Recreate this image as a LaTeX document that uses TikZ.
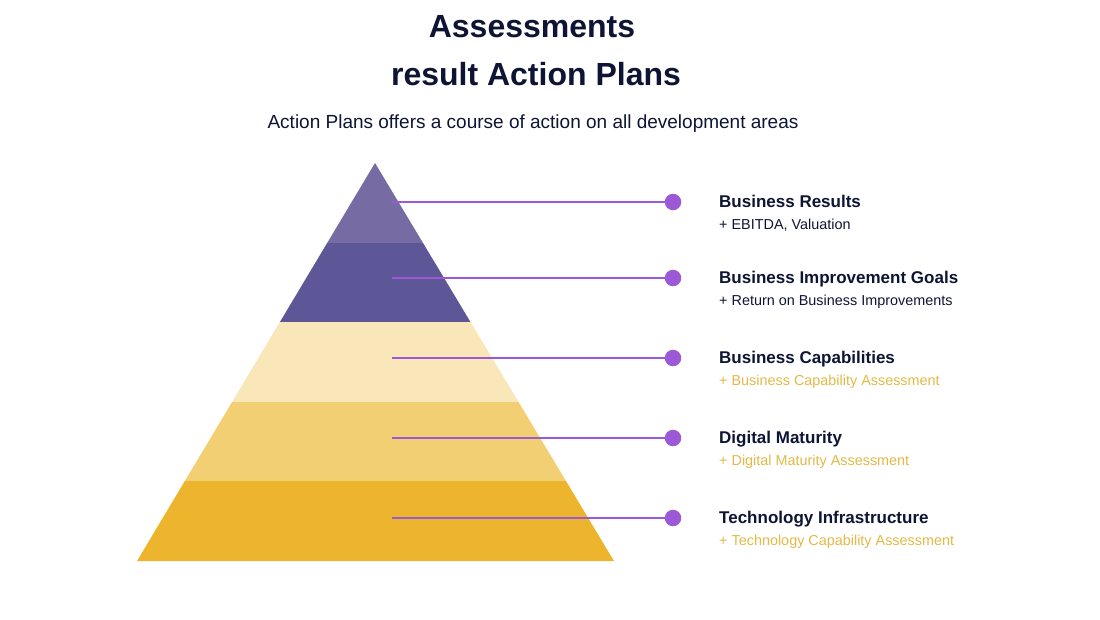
\documentclass[tikz,border=0pt]{standalone}
\usepackage{fontspec}
\setmainfont{Liberation Sans}
\usetikzlibrary{positioning}
\usepackage{xcolor}

\definecolor{navy}{HTML}{0E1433}
\definecolor{lavtop}{HTML}{776BA3}
\definecolor{lavdark}{HTML}{5E5797}
\definecolor{creme}{HTML}{F9E6B9}
\definecolor{sand}{HTML}{F3CF74}
\definecolor{gold}{HTML}{EDB52D}
\definecolor{goldtext}{HTML}{E3B846}
\definecolor{linkpurple}{HTML}{9B59D6}

\begin{document}
\begin{tikzpicture}[x=1pt,y=-1pt,
  title/.style={font=\bfseries\fontsize{32}{36}\selectfont,text=navy,anchor=base,inner sep=0pt},
  head/.style={font=\bfseries\fontsize{17}{20}\selectfont,text=navy,anchor=base west,inner sep=0pt},
  sub/.style={font=\fontsize{14.4}{16}\selectfont,anchor=base west,inner sep=0pt},
  dot/.style={circle,fill=linkpurple,inner sep=0pt,minimum size=16.5pt},
  link/.style={draw=linkpurple,line width=1.4pt}]
\useasboundingbox (0,0) rectangle (1100,619);

% title
\node[title] (ttl1) at (532,37) {Assessments};
\node[title] (ttl2) at (536,85) {result Action Plans};
\node[anchor=base,inner sep=0pt,text=navy,font=\fontsize{19}{22}\selectfont] (subttl) at (533,128)
  {Action Plans offers a course of action on all development areas};

% pyramid bands
\begin{scope}
\clip (375,163) -- (614,561) -- (137,561) -- cycle;
\foreach \ya/\yb/\col in {163/243/lavtop,243/322/lavdark,322/402/creme,402/481/sand,481/562/gold}
  \fill[\col] (100,\ya) rectangle (650,\yb);
\end{scope}

% levels with labels
\foreach \y/\hd/\sb/\col [count=\i] in {
  202/Business Results/{+ EBITDA, Valuation}/navy,
  278/Business Improvement Goals/+ Return on Business Improvements/navy,
  358/Business Capabilities/+ Business Capability Assessment/goldtext,
  438/Digital Maturity/+ Digital Maturity Assessment/goldtext,
  518/Technology Infrastructure/+ Technology Capability Assessment/goldtext} {
  \coordinate (start\i) at (392,\y);
  \node[dot] (dot\i) at (673,\y) {};
  \draw[link] (start\i) -- (dot\i.west);
  \node[head] (head\i) at (719,\y+5) {\hd};
  \node[sub,text=\col] (sub\i) at (719,\y+27) {\sb};
}

\end{tikzpicture}
\end{document}
